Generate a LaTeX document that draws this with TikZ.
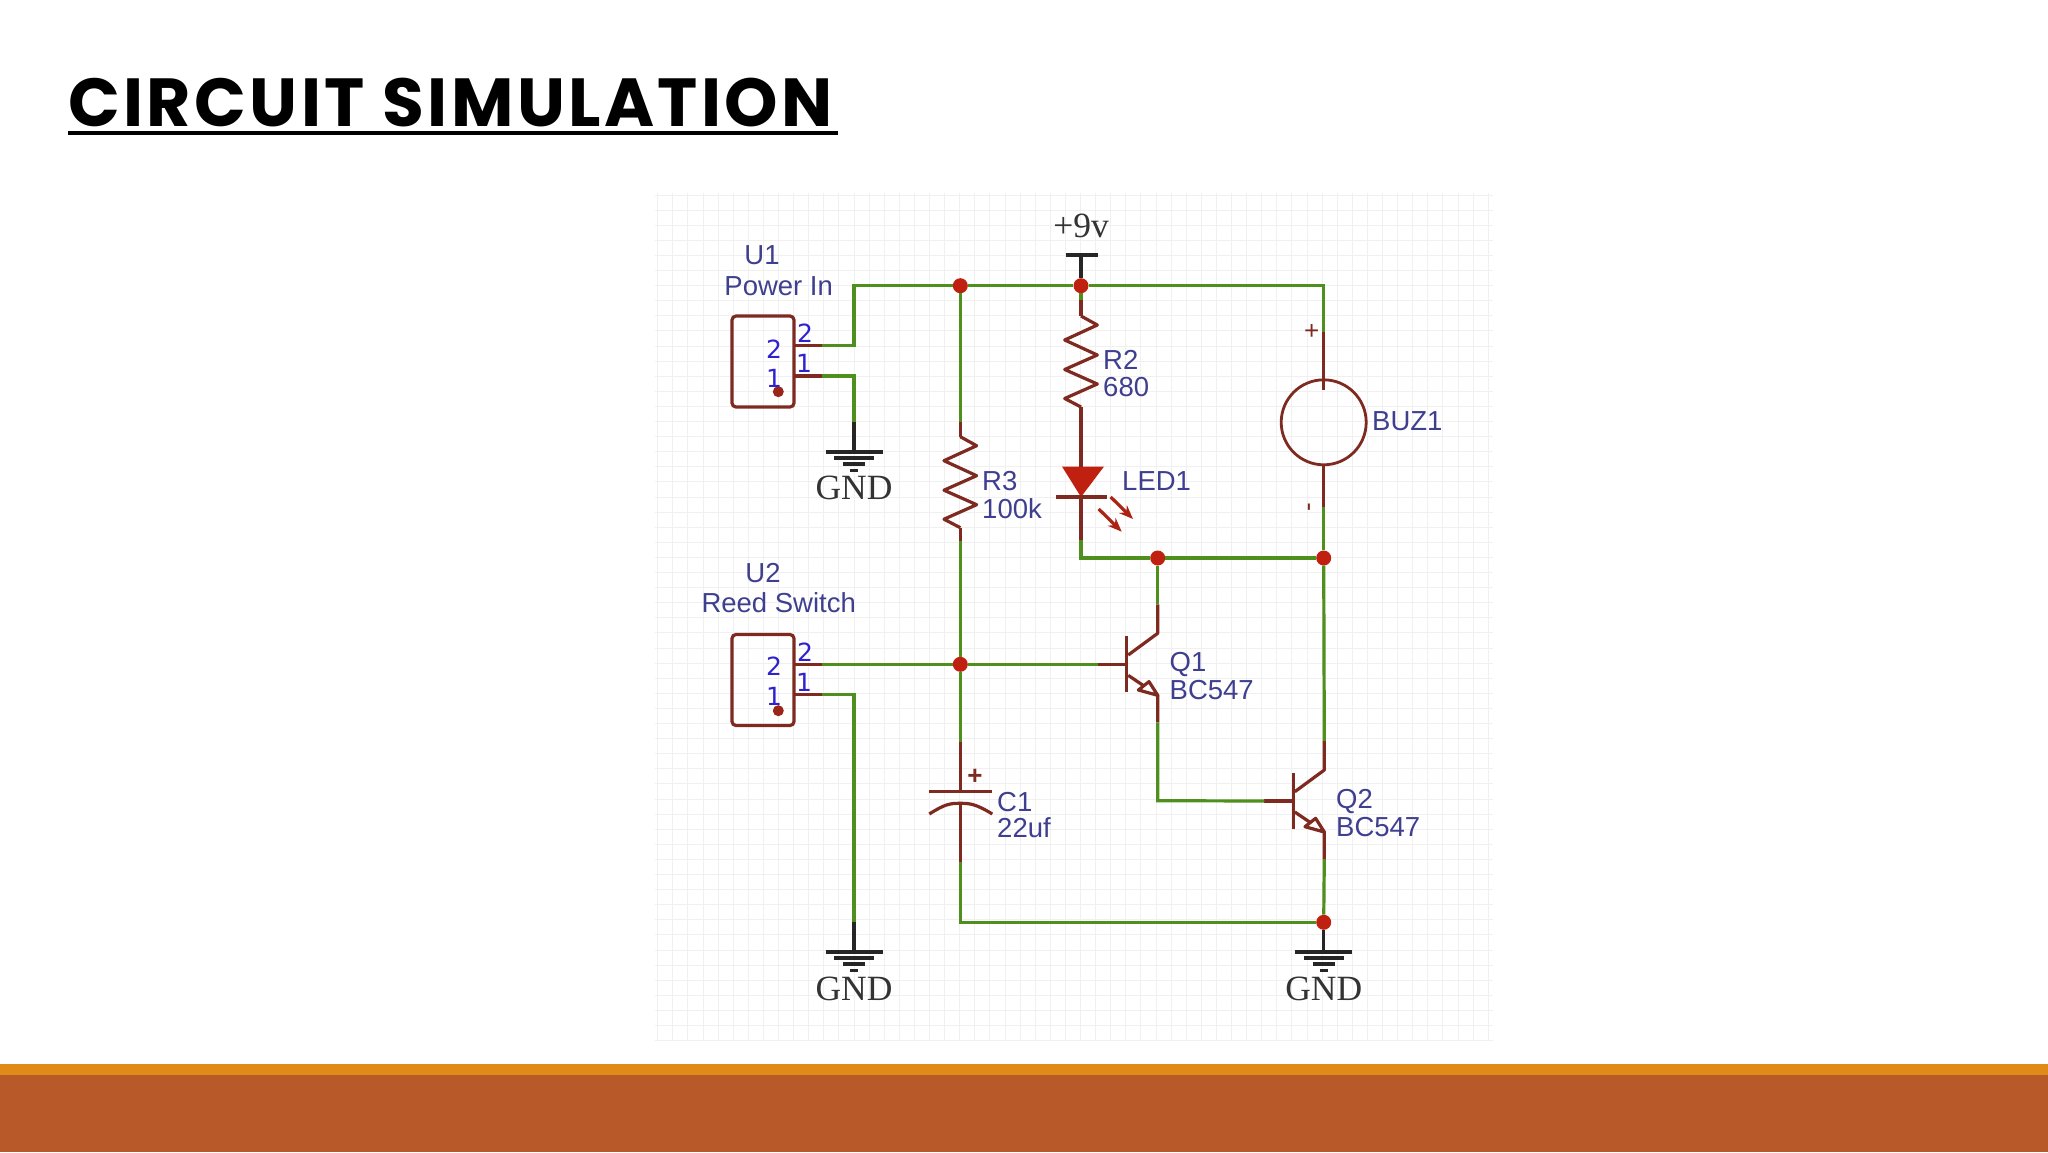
\documentclass[tikz,border=0pt]{standalone}
\usepackage{fontspec}
\usepackage{xcolor}
\usetikzlibrary{arrows.meta}
\setmainfont{Liberation Sans}
\newfontfamily\serifface{Liberation Serif}
\newfontfamily\pinface{DejaVu Sans}
\newfontfamily\titleface[LetterSpace=5]{Poppins}
\definecolor{wiregreen}{HTML}{4F8F1E}
\definecolor{partbrown}{HTML}{7F2A20}
\definecolor{juncred}{HTML}{C0200F}
\definecolor{lblblue}{HTML}{3F3F8F}
\definecolor{pinblue}{HTML}{2E22D0}
\definecolor{bandorange}{HTML}{E08A17}
\definecolor{bandbrown}{HTML}{B85929}
\tikzset{
  wire/.style={wiregreen, line width=3.2pt, line join=miter},
  part/.style={partbrown, line width=3.2pt, line join=round},
  blackline/.style={black!85, line width=3.2pt},
  gridline/.style={black!6, line width=0.9pt},
  junc/.style={circle, fill=juncred, inner sep=0pt, minimum size=15pt},
  connbox/.style={draw=partbrown, line width=3.2pt, rounded corners=4pt, minimum width=62pt, minimum height=91pt, inner sep=0pt},
  lbl/.style={text=lblblue, font=\fontsize{27.5}{30}\selectfont, inner sep=0pt},
  gndlbl/.style={text=black!80, font=\fontsize{35.5}{38}\selectfont\serifface, inner sep=0pt},
  pinlbl/.style={text=pinblue, font=\fontsize{25}{28}\selectfont\pinface, inner sep=0pt},
  signlbl/.style={text=partbrown, font=\fontsize{26}{28}\selectfont, inner sep=0pt}
}
\begin{document}
\begin{tikzpicture}[x=1pt, y=-1pt]
  \useasboundingbox (0,0) rectangle (2048,1152);
  \fill[white] (0,0) rectangle (2048,1152);
  \fill[bandorange] (0,1064) rectangle (2048,1076);
  \fill[bandbrown] (0,1075) rectangle (2048,1152);

  \node[anchor=west, inner sep=0pt, font=\fontsize{68}{70}\selectfont\titleface\bfseries] (title) at (68,103) {CIRCUIT SIMULATION};
  \coordinate (ula) at (68,133);
  \coordinate (ulb) at (838,133);
  \draw[black, line width=3.5pt] (ula) -- (ulb);

  \foreach \i in {0,...,55}
    \draw[gridline] ({657.7+\i*15.1},193) -- ++(0,847);
  \foreach \i in {0,...,56}
    \draw[gridline] (655,{195+\i*15.1}) -- ++(838,0);

  \node[junc] (j1) at (960.3,285.7) {};
  \node[junc] (j2) at (1081,285.7) {};
  \node[junc] (j3) at (1157.7,558) {};
  \node[junc] (j4) at (1323.7,558) {};
  \node[junc] (j5) at (960.3,664.3) {};
  \node[junc] (j6) at (1323.7,922.3) {};

  % connectors
  \node[connbox] (u1) at (763,361.5) {};
  \node[connbox] (u2) at (763,680) {};
  \coordinate (u1p2) at (794,345.7);
  \coordinate (u1w2) at (821.7,345.7);
  \coordinate (u1p1) at (794,376);
  \coordinate (u1w1) at (821.7,376);
  \coordinate (u2p2) at (794,664.3);
  \coordinate (u2w2) at (821.7,664.3);
  \coordinate (u2p1) at (794,694.7);
  \coordinate (u2w1) at (821.7,694.7);
  \fill[partbrown!60!juncred] (778.3,391.7) circle (5.5);
  \fill[partbrown!60!juncred] (778.3,710.7) circle (5.5);
  \draw[part] (u1p2) -- (u1w2) (u1p1) -- (u1w1) (u2p2) -- (u2w2) (u2p1) -- (u2w1);

  % grounds
  \foreach \n/\gx/\gy in {1/854/452,2/854/952,3/1323.7/952} {
    \begin{scope}[shift={(\gx,\gy)}]
      \coordinate (gnd\n) at (0,0);
      \coordinate (gndt\n) at (0,-30);
      \draw[blackline] (-28.5,0) -- (28.5,0);
      \draw[blackline] (-20,6) -- (20,6);
      \draw[blackline] (-11,12) -- (11,12);
      \draw[blackline] (-4,18.5) -- (4,18.5);
    \end{scope}
  }
  \draw[blackline] (gndt1) -- (gnd1);
  \draw[blackline] (gndt2) -- (gnd2);
  \draw[blackline] (j6) -- (gnd3);
  \node[gndlbl] (gl1) at (854,488) {GND};
  \node[gndlbl] (gl2) at (854,989) {GND};
  \node[gndlbl] (gl3) at (1323.7,989) {GND};

  % resistors
  \foreach \n/\rx/\ry in {2/1081/316,3/960.3/436.7} {
    \begin{scope}[shift={(\rx,\ry)}]
      \coordinate (r\n a) at (0,0);
      \coordinate (r\n b) at (0,91);
      \draw[part] (r\n a) -- (16.3,9) -- (-16.3,24) -- (16.3,39) -- (-16.3,53.5) -- (16.3,68) -- (-16.3,82.5) -- (r\n b);
    \end{scope}
  }

  % transistors
  \foreach \n/\qx/\qy in {1/1126.7/664.3,2/1293.3/801} {
    \begin{scope}[shift={(\qx,\qy)}]
      \coordinate (q\n b) at (-29,0);
      \coordinate (q\n bar) at (0,0);
      \coordinate (q\n c) at (31,-31);
      \coordinate (q\n e) at (31,31);
      \coordinate (q\n ct) at (31,-60);
      \coordinate (q\n et) at (31,58);
      \draw[part] (0,-28) -- (0,28);
      \draw[part] (q\n b) -- (q\n bar);
      \draw[part] (1.5,-9.3) -- (q\n c) -- (q\n ct);
      \draw[part] (1.5,11) -- (q\n e) -- (q\n et);
      \draw[part, fill=white] (11.7,25.7) -- (22.3,17.3) -- (q\n e) -- cycle;
    \end{scope}
  }

  % led, buzzer, capacitor
  \coordinate (r2t) at (1081,300);
  \coordinate (r3t) at (960.3,421.7);
  \coordinate (r3o) at (960.3,541);
  \coordinate (ledt) at (1081,467);
  \coordinate (ledk) at (1081,497);
  \coordinate (ledo) at (1081,540);
  \coordinate (ledc) at (1081,558);
  \fill[juncred] (1062,466.5) -- (1104,466.5) -- (ledk) -- cycle;
  \draw[part] (1056,497) -- (1107,497);
  \draw[part, -{Stealth[length=14pt,width=11pt]}, juncred!70!partbrown] (1110.7,497) -- (1133,519);
  \draw[part, -{Stealth[length=14pt,width=11pt]}, juncred!70!partbrown] (1098.7,509) -- (1121.7,531.7);

  \node[draw=partbrown, line width=2.8pt, circle, minimum size=85pt, inner sep=0pt] (buz) at (1323.7,422.3) {};
  \coordinate (buzt) at (1323.7,331.7);
  \coordinate (buzo) at (1323.7,507);
  \coordinate (buzi) at (1323.7,390);
  \coordinate (buzc) at (1323.7,285.7);

  \coordinate (c1t) at (960.3,741.7);
  \coordinate (c1p) at (960.3,791.7);
  \coordinate (c1q) at (960.3,803.3);
  \coordinate (c1o) at (960.3,862);
  \coordinate (c1c) at (960.3,922.3);
  \draw[part] (929,791.7) -- (992,791.7);
  \draw[part] (929.3,814) .. controls (945,804) and (950,803.3) .. (c1q) .. controls (970,803.3) and (976,804) .. (992.3,814);

  % wires
  \coordinate (u1n) at (854,285.7);
  \coordinate (u2e) at (854,694.7);
  \coordinate (q1n) at (1157.7,800.7);
  \draw[wire] (u1w2) -| (u1n) -- (j1);
  \draw[wire] (j1) -- (j2);
  \draw[wire] (j2) -- (buzc) -- (buzt);
  \draw[wire] (j2) -- (r2t);
  \draw[wire] (j1) -- (r3t);
  \draw[wire] (u1w1) -| (gndt1);
  \draw[wire] (u2w2) -- (j5);
  \draw[wire] (u2w1) -- (u2e) -- (gndt2);
  \draw[wire] (j5) -- (q1b);
  \draw[wire] (r3o) -- (j5);
  \draw[wire] (j5) -- (c1t);
  \draw[wire] (ledo) -- (ledc) -- (j3);
  \draw[wire] (j3) -- (j4);
  \draw[wire] (buzo) -- (j4);
  \draw[wire] (j3) -- (q1ct);
  \draw[wire] (j4) -- (q2ct);
  \draw[wire] (q1et) -- (q1n) -- (q2b);
  \draw[wire] (q2et) -- (j6);
  \draw[wire] (c1o) -- (c1c) -- (j6);

  \draw[part] (r2t) -- (r2a);
  \draw[part] (r2b) -- (ledt);
  \draw[part] (ledk) -- (ledo);
  \draw[part] (r3t) -- (r3a);
  \draw[part] (r3b) -- (r3o);
  \draw[part] (buzt) -- (buzi);
  \draw[part] (buz.south) -- (buzo);
  \draw[part] (c1t) -- (c1p);
  \draw[part] (c1q) -- (c1o);
  \coordinate (vccb) at (1081,255);
  \draw[blackline] (j2) -- (vccb);
  \draw[blackline] (1065.7,255) -- (1098.3,255);

  % labels
  \node[gndlbl] (vcc) at (1081,226) {+9v};
  \node[lbl] (u1a) at (762,255) {U1};
  \node[lbl] (u1b) at (778.7,285.7) {Power In};
  \node[lbl] (u2a) at (763,572.7) {U2};
  \node[lbl] (u2b) at (778.7,602.7) {Reed Switch};
  \node[lbl, anchor=west] (r2l) at (1103,360) {R2};
  \node[lbl, anchor=west] (r2v) at (1103,387) {680};
  \node[lbl, anchor=west] (r3l) at (982,481) {R3};
  \node[lbl, anchor=west] (r3v) at (982,509) {100k};
  \node[lbl, anchor=west] (ledl) at (1122,481) {LED1};
  \node[lbl, anchor=west] (buzl) at (1372,421) {BUZ1};
  \node[lbl, anchor=west] (q1l) at (1169.5,664) {Q1};
  \node[lbl, anchor=west] (q1v) at (1169.5,690) {BC547};
  \node[lbl, anchor=west] (q2l) at (1336,801.5) {Q2};
  \node[lbl, anchor=west] (q2v) at (1336,827) {BC547};
  \node[lbl, anchor=west] (c1l) at (997,801.7) {C1};
  \node[lbl, anchor=west] (c1v) at (997,828) {22uf};
  \node[signlbl] (buzp) at (1311.7,331.7) {+};
  \node[signlbl, rotate=90] (buzm) at (1312,506.7) {-};
  \node[signlbl, font=\fontsize{26}{28}\selectfont\bfseries] (c1s) at (975,777.3) {+};

  \node[pinlbl] (p1a) at (774,349) {2};
  \node[pinlbl] (p1b) at (774,378) {1};
  \node[pinlbl] (p1c) at (805,333) {2};
  \node[pinlbl] (p1d) at (804,363) {1};
  \node[pinlbl] (p2a) at (774,666.7) {2};
  \node[pinlbl] (p2b) at (774,696.7) {1};
  \node[pinlbl] (p2c) at (805,652.7) {2};
  \node[pinlbl] (p2d) at (804,682.7) {1};
\end{tikzpicture}
\end{document}
